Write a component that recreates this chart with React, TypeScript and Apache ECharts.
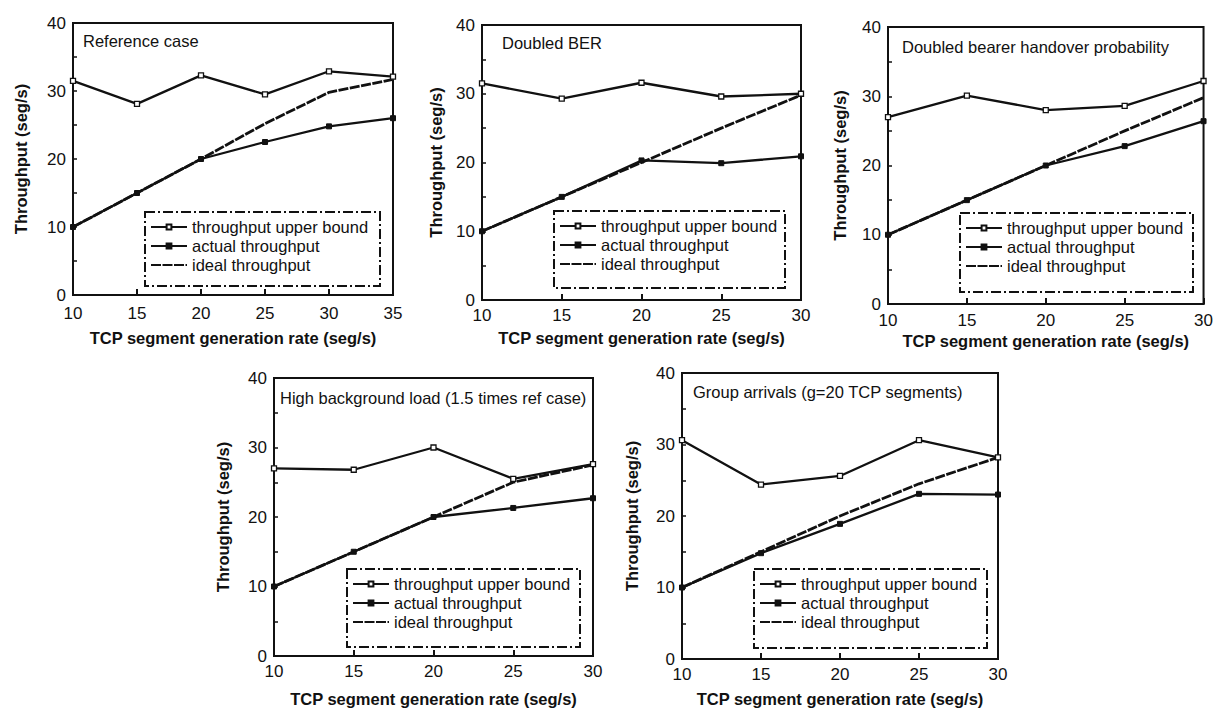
import React, { useEffect, useRef } from "react";
import * as echarts from "echarts";

// ---- data ----
const seriesNames = ["throughput upper bound", "actual throughput", "ideal throughput"];
const panelTitles = [
  "Reference case",
  "Doubled BER",
  "Doubled bearer handover probability",
  "High background load (1.5 times ref case)",
  "Group arrivals (g=20 TCP segments)",
];
const xName = "TCP segment generation rate (seg/s)";
const yName = "Throughput (seg/s)";

const xRef = [10, 15, 20, 25, 30, 35];
const xRate = [10, 15, 20, 25, 30];

const refUpper = [31.5, 28.1, 32.3, 29.5, 32.9, 32.1];
const refActual = [10, 15, 20, 22.5, 24.8, 26];
const refIdeal = [10, 15, 20, 25.2, 29.8, 31.7];

const berUpper = [31.5, 29.3, 31.6, 29.6, 30.0];
const berActual = [10, 15, 20.3, 19.9, 20.9];
const berIdeal = [10, 15, 20, 25, 29.8];

const hoUpper = [27.0, 30.1, 28.0, 28.6, 32.2];
const hoActual = [10, 15, 20, 22.8, 26.4];
const hoIdeal = [10, 15, 20, 25, 29.8];

const loadUpper = [27.0, 26.8, 30.0, 25.5, 27.6];
const loadActual = [10, 15, 20, 21.3, 22.7];
const loadIdeal = [10, 15, 20, 25, 27.5];

const groupUpper = [30.6, 24.4, 25.6, 30.6, 28.2];
const groupActual = [10, 14.8, 18.9, 23.1, 23.0];
const groupIdeal = [10, 15, 20, 24.5, 28.2];

const panelX = [xRef, xRate, xRate, xRate, xRate];
const panelUpper = [refUpper, berUpper, hoUpper, loadUpper, groupUpper];
const panelActual = [refActual, berActual, hoActual, loadActual, groupActual];
const panelIdeal = [refIdeal, berIdeal, hoIdeal, loadIdeal, groupIdeal];

// ---- layout (pixels) ----
const layout = [
  { left: 73, top: 23, width: 320, height: 272, xGap: 34, xMargin: 10, yGap: 44, tDx: 10, tDy: 9, lDx: 72, lDy: 189, lW: 235, lH: 74 },
  { left: 482, top: 25, width: 319, height: 275, xGap: 29, xMargin: 7, yGap: 38, tDx: 20, tDy: 9, lDx: 72, lDy: 186, lW: 231, lH: 77 },
  { left: 888, top: 27, width: 317, height: 277, xGap: 28, xMargin: 8, yGap: 40, tDx: 14, tDy: 11, lDx: 72, lDy: 186, lW: 233, lH: 79 },
  { left: 274, top: 378, width: 319, height: 279, xGap: 34, xMargin: 7, yGap: 43, tDx: 6, tDy: 11, lDx: 73, lDy: 191, lW: 233, lH: 78 },
  { left: 682, top: 373, width: 316, height: 286, xGap: 31, xMargin: 7, yGap: 42, tDx: 11, tDy: 10, lDx: 72, lDy: 196, lW: 233, lH: 79 },
];

const INK = "#111";
const FONT = "'Liberation Sans', Arial, Helvetica, sans-serif";

function zip(xs: number[], ys: number[]) {
  return xs.map((x, i) => [x, ys[i]]);
}

export default function App() {
  const ref = useRef<HTMLDivElement>(null);

  useEffect(() => {
    if (!ref.current) return;
    const chart = echarts.init(ref.current, undefined, { renderer: "svg" });

    const grid: any[] = [];
    const xAxis: any[] = [];
    const yAxis: any[] = [];
    const series: any[] = [];
    const title: any[] = [];
    const legend: any[] = [];
    const graphic: any[] = [];

    layout.forEach((p, i) => {
      const xs = panelX[i];
      grid.push({
        left: p.left,
        top: p.top,
        width: p.width,
        height: p.height,
        show: true,
        borderColor: INK,
        borderWidth: 2,
        backgroundColor: "transparent",
      });
      xAxis.push({
        type: "value",
        gridIndex: i,
        min: 10,
        max: xs[xs.length - 1],
        interval: 5,
        name: xName,
        nameLocation: "middle",
        nameGap: p.xGap,
        nameTextStyle: { fontSize: 16.5, fontWeight: "bold", color: INK, fontFamily: FONT },
        axisLine: { show: true, lineStyle: { color: INK, width: 2 } },
        axisTick: { show: true, inside: true, length: 6, lineStyle: { color: INK, width: 2 } },
        axisLabel: { fontSize: 17, color: INK, margin: p.xMargin, showMinLabel: true, showMaxLabel: true, fontFamily: FONT },
        splitLine: { show: false },
      });
      yAxis.push({
        type: "value",
        gridIndex: i,
        min: 0,
        max: 40,
        interval: 5,
        name: yName,
        nameLocation: "middle",
        nameGap: p.yGap,
        nameTextStyle: { fontSize: 16.5, fontWeight: "bold", color: INK, fontFamily: FONT },
        axisLine: { show: true, lineStyle: { color: INK, width: 2 } },
        axisTick: { show: true, inside: true, length: 4, lineStyle: { color: INK, width: 1.5 } },
        axisLabel: {
          fontSize: 17,
          color: INK,
          margin: 7,
          fontFamily: FONT,
          formatter: (v: number) => (v % 10 === 0 ? String(v) : ""),
        },
        splitLine: { show: false },
      });
      series.push({
        name: seriesNames[2],
        type: "line",
        xAxisIndex: i,
        yAxisIndex: i,
        data: zip(xs, panelIdeal[i]),
        symbol: "none",
        lineStyle: { color: INK, width: 2.8, type: [10, 1.5] },
        itemStyle: { color: "transparent" },
        z: 3,
      });
      series.push({
        name: seriesNames[0],
        type: "line",
        xAxisIndex: i,
        yAxisIndex: i,
        data: zip(xs, panelUpper[i]),
        symbol: "rect",
        symbolSize: 5,
        showAllSymbol: true,
        lineStyle: { color: INK, width: 2.3 },
        itemStyle: { color: "#fff", borderColor: INK, borderWidth: 1.3 },
        z: 4,
      });
      series.push({
        name: seriesNames[1],
        type: "line",
        xAxisIndex: i,
        yAxisIndex: i,
        data: zip(xs, panelActual[i]),
        symbol: "rect",
        symbolSize: 5,
        showAllSymbol: true,
        lineStyle: { color: INK, width: 2.3 },
        itemStyle: { color: INK, borderColor: INK, borderWidth: 1 },
        z: 4,
      });
      title.push({
        text: panelTitles[i],
        left: p.left + p.tDx,
        top: p.top + p.tDy,
        padding: 0,
        textStyle: { fontSize: 16.5, fontWeight: "normal", color: INK, fontFamily: FONT },
      });
      const bx = p.left + p.lDx;
      const by = p.top + p.lDy;
      legend.push({
        data: [
          { name: seriesNames[0] },
          { name: seriesNames[1] },
          { name: seriesNames[2], itemStyle: { color: "transparent", borderWidth: 0 } },
        ],
        orient: "vertical",
        left: bx + 5,
        top: by + 6,
        padding: 0,
        itemWidth: 36,
        itemHeight: 6,
        itemGap: 1,
        selectedMode: false,
        textStyle: { fontSize: 16.5, color: INK, lineHeight: 18, fontFamily: FONT },
      });
      graphic.push({
        type: "rect",
        silent: true,
        z: 10,
        shape: { x: bx, y: by, width: p.lW, height: p.lH },
        style: { fill: "none", stroke: INK, lineWidth: 2, lineDash: [10, 3, 2, 3] },
      });
    });

    chart.setOption({
      animation: false,
      backgroundColor: "#fff",
      textStyle: { fontFamily: FONT, color: INK },
      title,
      legend,
      grid,
      xAxis,
      yAxis,
      series,
      graphic,
    });

    return () => chart.dispose();
  }, []);

  return (
    <div
      ref={ref}
      style={{ position: "fixed", left: 0, top: 0, width: 1216, height: 708, background: "#fff" }}
    />
  );
}
